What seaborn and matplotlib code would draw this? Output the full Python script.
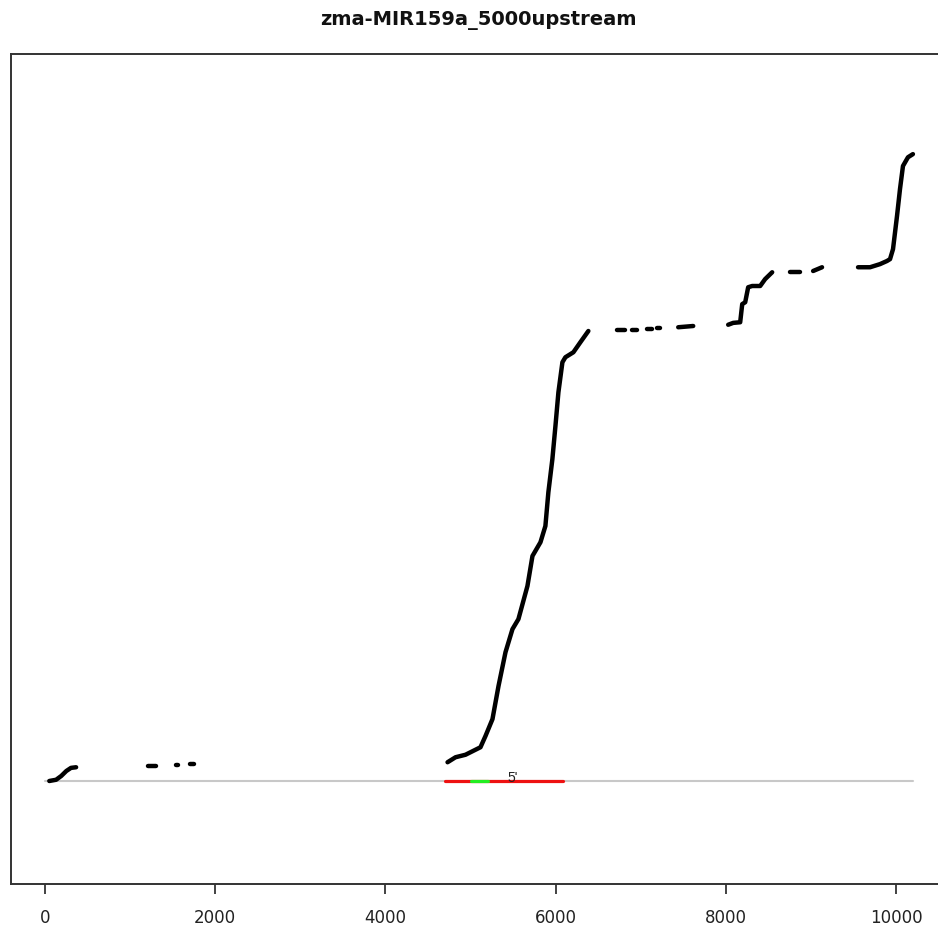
import matplotlib
matplotlib.use("Agg")
import matplotlib.pyplot as plt
import seaborn as sns
import pandas as pd
import numpy as np

# ---- data ----
title = "zma-MIR159a_5000upstream"

# cumulative curve, split into separate segments (gaps where no data)
seg_ids = [
    1, 1, 1, 1, 1, 1,
    2, 2,
    3, 3,
    4, 4,
    5, 5, 5, 5, 5, 5, 5, 5, 5, 5, 5, 5, 5, 5, 5, 5, 5, 5, 5, 5, 5, 5, 5,
    6, 6,
    7, 7,
    8, 8,
    9, 9,
    10, 10,
    11, 11, 11, 11, 11, 11, 11, 11, 11, 11,
    12, 12,
    13, 13,
    14, 14, 14, 14, 14, 14, 14, 14, 14, 14, 14,
]
positions = [
    50, 130, 190, 250, 305, 365,
    1210, 1300,
    1540, 1560,
    1700, 1750,
    4730, 4824, 4941, 5117, 5176, 5258, 5329, 5411, 5493, 5563, 5669, 5728,
    5822, 5880, 5915, 5962, 5998, 6033, 6080, 6115, 6209, 6291, 6385,
    6725, 6819,
    6901, 6960,
    7077, 7136,
    7195, 7230,
    7441, 7617,
    8028, 8087, 8169, 8193, 8228, 8263, 8310, 8404, 8462, 8545,
    8756, 8873,
    9026, 9131,
    9554, 9695, 9812, 9894, 9930, 9965, 10012, 10047, 10082, 10141, 10199,
]
scores = [
    0.0, 0.2, 0.8, 1.6, 2.1, 2.2,
    2.4, 2.4,
    2.6, 2.6,
    2.7, 2.7,
    3.0, 3.8, 4.2, 5.4, 7.2, 9.9, 15.2, 20.6, 24.3, 25.9, 31.2, 36.0,
    38.2, 40.8, 46.2, 51.5, 56.8, 62.2, 67.0, 67.8, 68.6, 70.2, 72.0,
    72.2, 72.2,
    72.2, 72.2,
    72.3, 72.3,
    72.5, 72.5,
    72.6, 72.8,
    73.0, 73.3, 73.4, 76.3, 76.6, 79.0, 79.2, 79.2, 80.3, 81.4,
    81.4, 81.4,
    81.6, 82.2,
    82.2, 82.2, 82.7, 83.2, 83.5, 85.1, 90.4, 94.7, 98.4, 99.8, 100.3,
]

# sequence baseline and annotated regions
baseline_x = [0, 10200]
baseline_y = [0, 0]
region_red_x = [4706, 6091]
region_green_x = [5000, 5211]
label_5prime = "5'"
label_5prime_x = 5490

xticks = [0, 2000, 4000, 6000, 8000, 10000]

# ---- plotting ----
sns.set_style("white")
plt.rcParams["font.family"] = ["DejaVu Sans"]

fig = plt.figure(figsize=(9.38, 9.29), dpi=100)
ax = fig.add_axes([11 / 938, 44 / 929, 974 / 938, 830 / 929])

curve = pd.DataFrame({"pos": positions, "score": scores, "seg": seg_ids})
base = pd.DataFrame({"pos": baseline_x, "score": baseline_y})
red = pd.DataFrame({"pos": region_red_x, "score": [0, 0]})
green = pd.DataFrame({"pos": region_green_x, "score": [0, 0]})

sns.lineplot(data=base, x="pos", y="score", color="#c8c8c8", lw=1.5, ax=ax,
             estimator=None)
sns.lineplot(data=red, x="pos", y="score", color="#ee1111", lw=2.3, ax=ax,
             estimator=None)
sns.lineplot(data=green, x="pos", y="score", color="#22ee22", lw=2.3, ax=ax,
             estimator=None)
sns.lineplot(data=curve, x="pos", y="score", units="seg", estimator=None,
             color="black", lw=3.2, sort=False, ax=ax,
             solid_capstyle="round", solid_joinstyle="round")

ax.text(label_5prime_x, 0.7, label_5prime, fontsize=10, ha="center",
        va="center", color="#222222", family="Liberation Sans")

ax.set_xlim(-400, 11046)
ax.set_ylim(-16.48, 116.32)
ax.set_xticks(xticks)
ax.set_xticklabels([str(t) for t in xticks], fontsize=12, color="#222222")
ax.set_yticks([])
ax.set_xlabel("")
ax.set_ylabel("")
ax.tick_params(axis="x", direction="out", length=7, width=1.2,
               color="#222222", pad=10, bottom=True)
for sp in ax.spines.values():
    sp.set_visible(True)
    sp.set_color("#333333")
    sp.set_linewidth(1.4)

fig.text(478 / 938, 1 - 21 / 929, title, ha="center", va="center",
         fontsize=14, fontweight="bold", color="#111111")

fig.savefig("out.png", dpi=100, facecolor="white")
